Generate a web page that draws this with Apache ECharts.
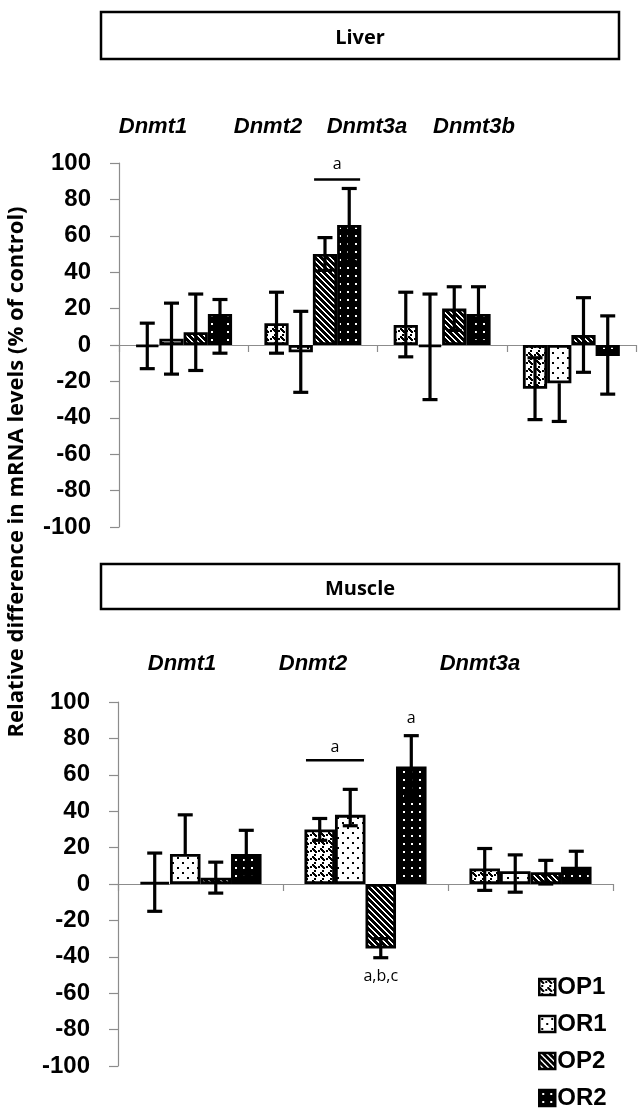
<!DOCTYPE html>
<html><head><meta charset="utf-8">
<script src="https://cdn.jsdelivr.net/npm/echarts/dist/echarts.min.js"></script>
<style>html,body{margin:0;padding:0;background:#fff}#c{width:643px;height:1113px}</style>
</head><body><div id="c"></div>
<script>
// ---------------- data ----------------
const seriesNames = ['OP1', 'OR1', 'OP2', 'OR2'];
const yTicks = [-100, 100, 20]; // min, max, interval

const liverGenes = ['Dnmt1', 'Dnmt2', 'Dnmt3a', 'Dnmt3b'];
const liverOP1 = [-1, 12, 11, -24];
const liverOR1 = [3.5, -4, -1, -21];
const liverOP2 = [7, 50, 20, 5.5];
const liverOR2 = [17, 66, 17, -6];
const liverOP1Low = [-13, -4.5, -6.5, -41];
const liverOP1High = [12, 29, 29, -7];
const liverOR1Low = [-16, -26, -30, -42];
const liverOR1High = [23, 18.5, 28, null];
const liverOP2Low = [-14, 41, 8, -15];
const liverOP2High = [28, 59, 32, 26];
const liverOR2Low = [-4.5, 46, 2, -27];
const liverOR2High = [25, 86, 32, 16];

const muscleGenes = ['Dnmt1', 'Dnmt2', 'Dnmt3a'];
const muscleOP1 = [1, 30, 8.5];
const muscleOR1 = [16.5, 38, 7];
const muscleOP2 = [3.5, -35.5, 6.5];
const muscleOR2 = [16.5, 64.5, 9.5];
const muscleOP1Low = [-15, 24, -3.5];
const muscleOP1High = [17, 36, 19.5];
const muscleOR1Low = [null, 32, -4.5];
const muscleOR1High = [38, 52, 16];
const muscleOP2Low = [-5, -40.5, 0];
const muscleOP2High = [12, -30, 13];
const muscleOR2Low = [4, 48, 1];
const muscleOR2High = [29.5, 81.5, 18];

// significance marks: panel, category, first bar, last bar, line value (null = none), text, text value
const sigPanel = [0, 1, 1, 1];
const sigCat = [1, 1, 1, 1];
const sigFrom = [2, 0, 3, 2];
const sigTo = [3, 1, 3, 2];
const sigLine = [91, 68, null, null];
const sigText = ['a', 'a', 'a', 'a,b,c'];
const sigTextVal = [99, 75, 91, -51];

// ---------------- patterns ----------------
function pattern(size, bg, fg, rects) {
  const c = document.createElement('canvas');
  c.width = size; c.height = size;
  const g = c.getContext('2d');
  g.fillStyle = bg; g.fillRect(0, 0, size, size);
  g.fillStyle = fg;
  rects.forEach(r => g.fillRect(r[0], r[1], r[2], r[3]));
  return { image: c, repeat: 'repeat' };
}
const fills = [
  pattern(8, '#fff', '#000', [[0,0,2,2],[1,1,2,2],[2,2,2,2],[3,3,2,2],[6,2,2,2],[2,6,2,2]]),
  pattern(10, '#fff', '#000', [[2,2,2,2],[7,7,2,2]]),
  pattern(6, '#000', '#fff', [[0,0,2,1],[1,1,2,1],[2,2,2,1],[3,3,2,1],[4,4,2,1],[5,5,1,1],[0,5,1,1]]),
  pattern(8, '#000', '#fff', [[3,3,2,2]])
];

const GAP = [0.25, 0.26];

function barSeries(name, k, grid, data) {
  return {
    name, type: 'bar', xAxisIndex: grid, yAxisIndex: grid, data,
    barGap: '0%', barCategoryGap: (GAP[grid] * 100) + '%',
    itemStyle: { color: fills[k], borderColor: '#000', borderWidth: 2.8 },
    z: 2, silent: true
  };
}
function errSeries(k, grid, values, lows, highs) {
  const data = values.map((v, i) => [i, v,
    lows[i] === null ? v : lows[i], highs[i] === null ? v : highs[i],
    lows[i] === null ? 0 : 1, highs[i] === null ? 0 : 1]);
  return {
    type: 'custom', xAxisIndex: grid, yAxisIndex: grid, z: 5, silent: true, data,
    encode: { x: 0, y: 1 },
    renderItem(params, api) {
      const i = api.value(0), lo = api.value(2), hi = api.value(3);
      const band = api.size([1, 0])[0];
      const bw = band * (1 - GAP[grid]) / 4;
      const cx = api.coord([i, 0])[0] + (k - 1.5) * bw;
      const yLo = api.coord([i, lo])[1], yHi = api.coord([i, hi])[1];
      const st = { stroke: '#000', lineWidth: 3.2, fill: null };
      const ch = [{ type: 'line', shape: { x1: cx, y1: yHi, x2: cx, y2: yLo }, style: st }];
      const cw = 7.5;
      if (api.value(4)) ch.push({ type: 'line', shape: { x1: cx - cw, y1: yLo, x2: cx + cw, y2: yLo }, style: st });
      if (api.value(5)) ch.push({ type: 'line', shape: { x1: cx - cw, y1: yHi, x2: cx + cw, y2: yHi }, style: st });
      return { type: 'group', children: ch };
    }
  };
}
function sigSeries(grid) {
  const idx = sigPanel.map((p, j) => p === grid ? j : -1).filter(j => j >= 0);
  return {
    type: 'custom', xAxisIndex: grid, yAxisIndex: grid, z: 6, silent: true,
    data: idx.map(j => [sigCat[j], sigTextVal[j], j]),
    encode: { x: 0, y: 1 },
    renderItem(params, api) {
      const j = api.value(2);
      const band = api.size([1, 0])[0];
      const bw = band * (1 - GAP[grid]) / 4;
      const c0 = api.coord([sigCat[j], 0])[0];
      const xa = c0 + (sigFrom[j] - 1.5) * bw, xb = c0 + (sigTo[j] - 1.5) * bw;
      const xm = (xa + xb) / 2;
      const ch = [{ type: 'text', style: { text: sigText[j], x: xm, y: api.coord([sigCat[j], sigTextVal[j]])[1],
        align: 'center', verticalAlign: 'middle', font: '16px "Open Sans"', fill: '#000' } }];
      if (sigLine[j] !== null) {
        const yl = api.coord([sigCat[j], sigLine[j]])[1];
        const half = (xb - xa) / 2 + bw * 0.45;
        ch.push({ type: 'line', shape: { x1: xm - half, y1: yl, x2: xm + half, y2: yl }, style: { stroke: '#000', lineWidth: 2.5 } });
      }
      return { type: 'group', children: ch };
    }
  };
}

const axisGray = '#8c8c8c';
function xAxis(grid, cats) {
  return {
    type: 'category', gridIndex: grid, data: cats,
    axisLine: { onZero: true, lineStyle: { color: axisGray, width: 1.2 } },
    axisTick: { show: true, length: 7, lineStyle: { color: axisGray, width: 1.2 } },
    axisLabel: { show: false }, splitLine: { show: false }
  };
}
function yAxis(grid) {
  return {
    type: 'value', gridIndex: grid, min: yTicks[0], max: yTicks[1], interval: yTicks[2],
    axisLine: { show: true, onZero: false, lineStyle: { color: axisGray, width: 1.2 } },
    axisTick: { show: true, length: 9, lineStyle: { color: axisGray, width: 1.2 } },
    axisLabel: { margin: 28, fontFamily: '"Liberation Sans", Arial', fontWeight: 'bold', fontSize: 24, color: '#000' },
    splitLine: { show: false }
  };
}

const liverVals = [liverOP1, liverOR1, liverOP2, liverOR2];
const liverLows = [liverOP1Low, liverOR1Low, liverOP2Low, liverOR2Low];
const liverHighs = [liverOP1High, liverOR1High, liverOP2High, liverOR2High];
const muscleVals = [muscleOP1, muscleOR1, muscleOP2, muscleOR2];
const muscleLows = [muscleOP1Low, muscleOR1Low, muscleOP2Low, muscleOR2Low];
const muscleHighs = [muscleOP1High, muscleOR1High, muscleOP2High, muscleOR2High];

const series = [];
seriesNames.forEach((n, k) => series.push(barSeries(n, k, 0, liverVals[k])));
seriesNames.forEach((n, k) => series.push(barSeries(n, k, 1, muscleVals[k])));
seriesNames.forEach((n, k) => series.push(errSeries(k, 0, liverVals[k], liverLows[k], liverHighs[k])));
seriesNames.forEach((n, k) => series.push(errSeries(k, 1, muscleVals[k], muscleLows[k], muscleHighs[k])));
series.push(sigSeries(0), sigSeries(1));

const titleFont = 'italic bold 22px "Liberation Sans", Arial';
const boxFont = 'bold 20px "Open Sans", "Liberation Sans"';
function geneTitle(text, x, y) {
  return { type: 'text', x, y, style: { text, font: titleFont, fill: '#000', textAlign: 'center', textVerticalAlign: 'middle' } };
}

const chart = echarts.init(document.getElementById('c'), null, { renderer: 'canvas' });
chart.setOption({
  animation: false,
  backgroundColor: '#fff',
  grid: [
    { left: 119, right: 7, top: 163, height: 364 },
    { left: 118, right: 30, top: 702, height: 364 }
  ],
  xAxis: [xAxis(0, liverGenes), xAxis(1, muscleGenes)],
  yAxis: [yAxis(0), yAxis(1)],
  legend: {
    data: seriesNames, orient: 'vertical', left: 538, top: 975, padding: 0,
    icon: 'rect', itemWidth: 16, itemHeight: 16, itemGap: 13,
    itemStyle: { borderColor: '#000', borderWidth: 2.5 },
    textStyle: { fontFamily: '"Liberation Sans", Arial', fontWeight: 'bold', fontSize: 24, color: '#000', lineHeight: 24, padding: [0, 0, 0, -3] },
    selectedMode: false
  },
  series,
  graphic: [
    { type: 'rect', shape: { x: 101, y: 12, width: 518, height: 47 }, style: { fill: '#fff', stroke: '#000', lineWidth: 2.5 } },
    { type: 'text', x: 360, y: 38, style: { text: 'Liver', font: boxFont, fill: '#000', textAlign: 'center', textVerticalAlign: 'middle' } },
    { type: 'rect', shape: { x: 101, y: 564, width: 518, height: 45 }, style: { fill: '#fff', stroke: '#000', lineWidth: 2.5 } },
    { type: 'text', x: 360, y: 589, style: { text: 'Muscle', font: boxFont, fill: '#000', textAlign: 'center', textVerticalAlign: 'middle' } },
    geneTitle('Dnmt1', 153, 127), geneTitle('Dnmt2', 268, 127), geneTitle('Dnmt3a', 367, 127), geneTitle('Dnmt3b', 474, 127),
    geneTitle('Dnmt1', 182, 664), geneTitle('Dnmt2', 313, 664), geneTitle('Dnmt3a', 480, 664),
    { type: 'text', x: 17, y: 472, rotation: Math.PI / 2,
      style: { text: 'Relative difference in mRNA levels (% of control)', font: 'bold 22px "Open Sans", "Liberation Sans"', fill: '#000', textAlign: 'center', textVerticalAlign: 'middle' } }
  ]
});
</script></body></html>
